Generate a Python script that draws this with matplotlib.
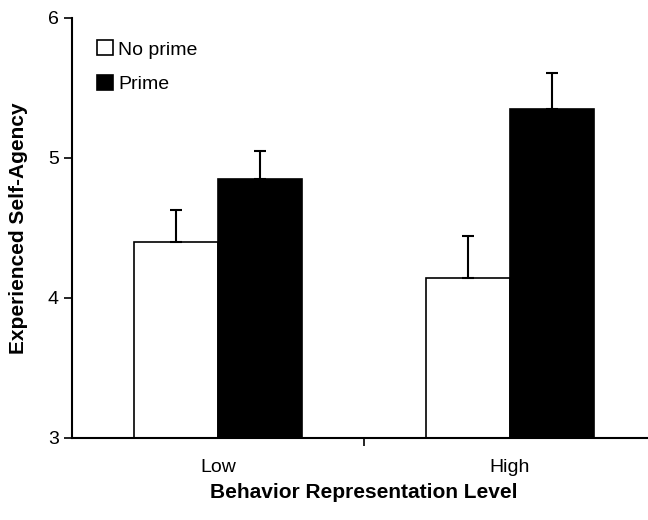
"""Bar chart: experienced self-agency by behavior representation level and prime."""

import matplotlib

matplotlib.use("Agg")
import matplotlib.pyplot as plt
import numpy as np
from matplotlib import font_manager

LEVELS = ["Low", "High"]
NO_PRIME = [4.40, 4.14]
NO_PRIME_ERR = [0.23, 0.30]
PRIME = [4.85, 5.35]
PRIME_ERR = [0.20, 0.26]
Y_TICKS = [3, 4, 5, 6]

names = {f.name for f in font_manager.fontManager.ttflist}
FONT = "Liberation Sans Narrow" if "Liberation Sans Narrow" in names else "Liberation Sans"
plt.rcParams["font.family"] = [FONT, "DejaVu Sans"]

BAR_W = 0.288
X_MIN, X_MAX = -0.5, 1.473

fig = plt.figure(figsize=(6.48, 5.2), dpi=100)
ax = fig.add_axes([72 / 648, 82 / 520, 1 - 72 / 648, 420 / 520])

x = np.arange(len(LEVELS))
err_kw = dict(ecolor="black", elinewidth=1.5, capsize=4, capthick=1.5)
ax.bar(x - BAR_W / 2, NO_PRIME, BAR_W, color="white", edgecolor="black",
       linewidth=1.2, yerr=[np.zeros(2), NO_PRIME_ERR], error_kw=err_kw,
       label="No prime", zorder=2)
ax.bar(x + BAR_W / 2, PRIME, BAR_W, color="black", edgecolor="black",
       linewidth=1.2, yerr=[np.zeros(2), PRIME_ERR], error_kw=err_kw,
       label="Prime", zorder=2)

ax.set_ylim(3, 6)
ax.set_xlim(X_MIN, X_MAX)
ax.set_yticks(Y_TICKS)
ax.set_yticklabels([str(t) for t in Y_TICKS], fontsize=14)
# only the divider tick between the two groups is drawn on the x axis
ax.set_xticks([0.5])
ax.set_xticklabels([""])
ax.tick_params(axis="both", direction="out", length=6, width=1.2)
for i, name in enumerate(LEVELS):
    ax.text(i, -0.07, name, transform=ax.get_xaxis_transform(),
            ha="center", va="center", fontsize=14)

for side in ("top", "right"):
    ax.spines[side].set_visible(False)
for side in ("left", "bottom"):
    ax.spines[side].set_linewidth(1.5)

ax.text((0.5 - X_MIN) / (X_MAX - X_MIN), -0.13, "Behavior Representation Level",
        transform=ax.transAxes, ha="center", va="center",
        fontsize=15, fontweight="bold")
ax.set_ylabel("Experienced Self-Agency", fontsize=15, fontweight="bold",
              labelpad=14)

ax.legend(loc="upper left", bbox_to_anchor=(0.03, 0.965), frameon=False,
          fontsize=14, handlelength=0.8, handleheight=0.8, handletextpad=0.3,
          labelspacing=0.85, borderaxespad=0)

fig.savefig("out.png")
